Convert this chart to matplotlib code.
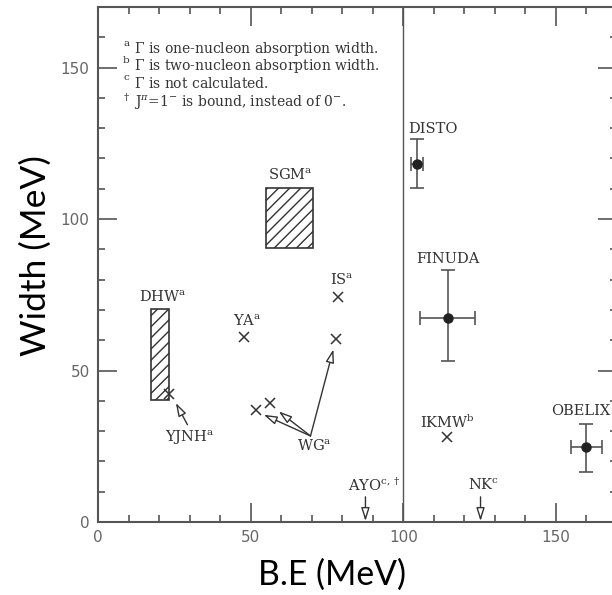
import matplotlib
matplotlib.use("Agg")
import matplotlib.pyplot as plt
from matplotlib.patches import Rectangle
from matplotlib.ticker import MultipleLocator

plt.rcParams["mathtext.fontset"] = "dejavuserif"
plt.rcParams["hatch.linewidth"] = 1.0

# --- data ---
# theory predictions: x markers (B.E, width)
cross_x = [23.3, 47.8, 78.6, 51.9, 56.5, 77.9, 114.4]
cross_y = [42.4, 61.2, 74.3, 37.1, 39.3, 60.3, 28.2]

# hatched ranges (x0, x1, y0, y1)
dhw_box = [17.3, 23.2, 40.3, 70.2]
sgm_box = [55.0, 70.3, 90.3, 110.3]

# experiments with error bars
exp_names = ["DISTO", "FINUDA", "OBELIX"]
exp_x = [104.5, 114.5, 160.0]
exp_y = [118.2, 67.2, 24.6]
exp_xerr = [2.0, 9.0, 5.0]
exp_yerr_lo = [8.0, 14.0, 8.2]
exp_yerr_hi = [8.2, 16.0, 7.8]

# bound-only calculations (arrows pointing down to the axis)
down_x = [87.6, 125.3]

# WG arrows: from label apex to each marker
wg_from = (69.6, 28.4)
wg_to = [(54.3, 35.4), (59.2, 36.5), (77.1, 57.0)]
yjnh_from = (29.3, 32.1)
yjnh_to = (25.5, 39.3)

labels = [
    ("DHW$^{\\rm a}$", 21.1, 74.1),
    ("SGM$^{\\rm a}$", 63.0, 114.3),
    ("YA$^{\\rm a}$", 48.9, 66.3),
    ("IS$^{\\rm a}$", 80.0, 79.6),
    ("YJNH$^{\\rm a}$", 30.0, 27.7),
    ("WG$^{\\rm a}$", 71.0, 24.9),
    ("AYO$^{\\rm c,\\dagger}$", 90.6, 12.0),
    ("NK$^{\\rm c}$", 126.3, 12.0),
    ("IKMW$^{\\rm b}$", 114.3, 32.8),
    ("DISTO", 109.7, 129.8),
    ("FINUDA", 114.7, 86.8),
    ("OBELIX", 158.0, 36.5),
]

note_marks = ["a", "b", "c", "$\\dagger$"]
notes = [
    "$\\Gamma$ is one-nucleon absorption width.",
    "$\\Gamma$ is two-nucleon absorption width.",
    "$\\Gamma$ is not calculated.",
    "J$^{\\pi}$=1$^{-}$ is bound, instead of 0$^{-}$.",
]
note_y = [156.0, 150.5, 144.8, 138.2]

INK = "#333333"
AX = "#555555"

fig = plt.figure(figsize=(6.12, 5.95), dpi=100)
ax = fig.add_axes([98 / 612, 1 - 522 / 595, (617 - 98) / 612, (522 - 7) / 595])
ax.set_xlim(0, 170)
ax.set_ylim(0, 170)

# separator between predictions and measurements
ax.axvline(100, color=AX, lw=1.0)

for x0, x1, y0, y1 in [dhw_box, sgm_box]:
    ax.add_patch(Rectangle((x0, y0), x1 - x0, y1 - y0, fill=False,
                           edgecolor=INK, hatch="///", lw=1.2))

ax.plot(cross_x, cross_y, "x", color=INK, ms=7, mew=1.1)

for name, x, y, xe, lo, hi in zip(exp_names, exp_x, exp_y, exp_xerr,
                                  exp_yerr_lo, exp_yerr_hi):
    ax.errorbar(x, y, xerr=xe, yerr=[[lo], [hi]], fmt="o", color="#222222",
                ms=6.5, ecolor=AX, elinewidth=1.2, capsize=5, capthick=1.2)

arrow_style = dict(arrowstyle="-|>,head_length=0.8,head_width=0.25",
                   fc="white", ec=INK, lw=1.0, shrinkA=0, shrinkB=0)
for tx, ty in wg_to:
    ax.annotate("", xy=(tx, ty), xytext=wg_from, arrowprops=arrow_style)
ax.annotate("", xy=yjnh_to, xytext=yjnh_from, arrowprops=arrow_style)
for x in down_x:
    ax.annotate("", xy=(x, 0.3), xytext=(x, 8.3), arrowprops=arrow_style)

for txt, x, y in labels:
    ax.text(x, y, txt, ha="center", va="center", fontsize=10.5,
            family="DejaVu Serif", color=INK)

# footnotes: small mark up-left, then the line
for mark, txt, y in zip(note_marks, notes, note_y):
    ax.text(9.3, y + 2.0, mark, ha="center", va="center", fontsize=7.5,
            family="DejaVu Serif", color=INK)
    ax.text(11.8, y, txt, ha="left", va="center", fontsize=10.0,
            family="DejaVu Serif", color=INK)

# --- axes styling ---
ax.xaxis.set_major_locator(MultipleLocator(50))
ax.xaxis.set_minor_locator(MultipleLocator(10))
ax.yaxis.set_major_locator(MultipleLocator(50))
ax.yaxis.set_minor_locator(MultipleLocator(10))
ax.tick_params(which="both", direction="in", top=True, right=True,
               color=AX, width=1.2)
ax.tick_params(which="major", length=14, labelsize=11, labelcolor="#666666", pad=6)
ax.tick_params(which="minor", length=5)
for s in ax.spines.values():
    s.set_color(AX)
    s.set_linewidth(1.5)

ax.set_xlabel("B.E (MeV)", fontsize=24.3, family="Lato")
ax.set_ylabel("Width (MeV)", fontsize=25.5, family="Lato")
ax.xaxis.set_label_coords((332 - 98) / 519, -(559 - 522) / 515)
ax.yaxis.set_label_coords(-(98 - 52) / 519, (522 - 256) / 515)

fig.savefig("out.png", dpi=100)
